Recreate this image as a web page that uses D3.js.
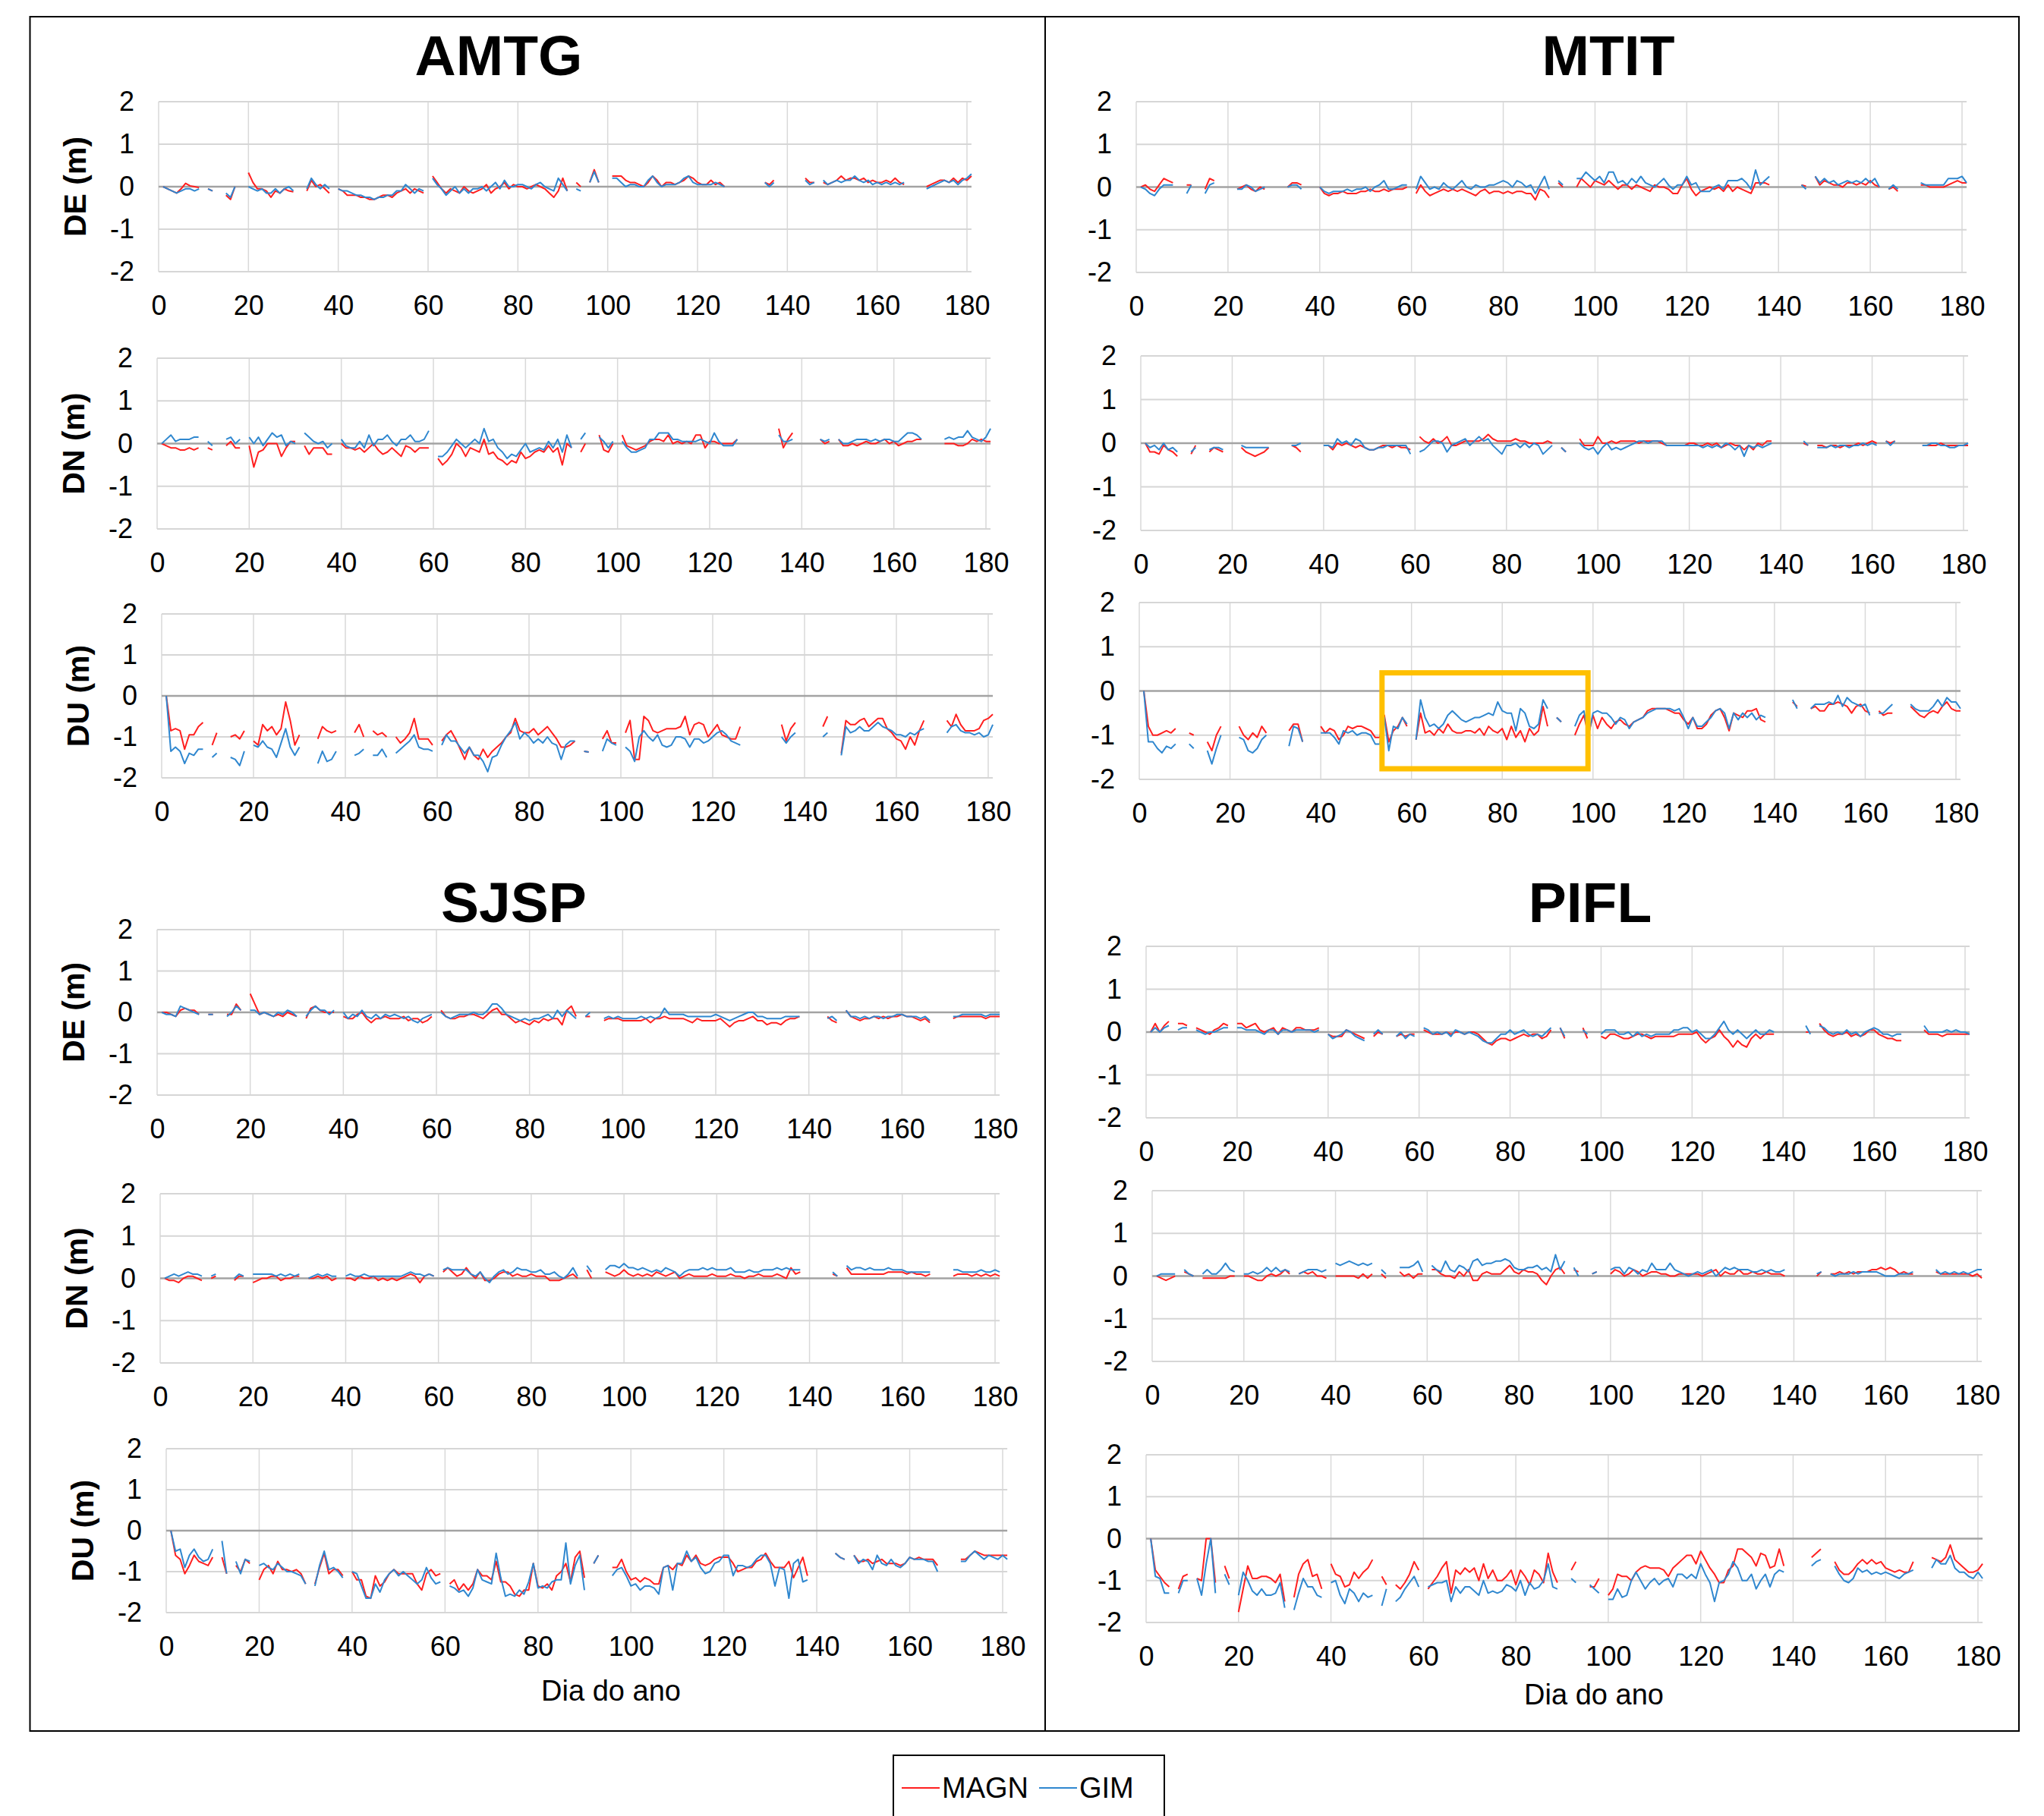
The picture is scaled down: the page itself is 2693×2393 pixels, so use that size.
<!DOCTYPE html>
<html><head><meta charset="utf-8">
<script src="https://cdn.jsdelivr.net/npm/d3@7"></script>
<style>body{margin:0;background:#fff}</style>
</head><body>
<script>
const _ = null;
const stations = ["AMTG", "MTIT", "SJSP", "PIFL"];
const components = ["DE (m)", "DN (m)", "DU (m)"];
const seriesNames = ["MAGN", "GIM"];
const xTicks = [0, 20, 40, 60, 80, 100, 120, 140, 160, 180];
const yTicks = [2, 1, 0, -1, -2];
const xTitle = "Dia do ano";

// values for days 1..181 (m)
const AMTG_DE_MAGN = [
0,-.05,-.1,-.15,-.05,.08,.02,0,-.02,_,
-.05,-.1,_,_,-.2,-.3,0,_,_,.33,
.1,-.05,-.05,-.1,-.25,-.1,-.15,-.05,-.1,-.12,
_,_,-.1,.15,0,.05,-.05,-.15,_,-.05,
-.1,-.2,-.2,-.2,-.25,-.25,-.3,-.3,-.25,-.2,
-.2,-.25,-.15,-.1,-.05,-.15,-.05,-.1,-.15,_,
.25,.1,-.05,-.15,-.05,-.1,-.15,0,-.1,-.15,
-.1,-.05,.05,-.15,-.05,0,.1,-.05,.05,0,
0,-.05,0,.05,0,-.05,-.15,-.25,-.1,.2,
-.1,_,.1,0,_,.1,.4,.1,_,_,
.25,.25,.25,.15,.1,.1,.05,0,.1,.25,
.15,0,.1,.1,.05,.1,.15,.25,.2,.1,
.05,.05,.15,.05,.1,0,_,_,_,_,
_,_,_,_,.1,.05,.15,_,_,_,
_,_,_,.2,.1,.1,_,.1,.05,.1,
.15,.25,.15,.2,.2,.15,.2,.1,.15,.1,
.1,.15,.1,.2,.1,.05,_,_,_,_,
0,.05,.1,.15,.15,.1,.2,.1,.2,.15,
.25];
const AMTG_DE_GIM = [
0,-.05,-.1,-.15,-.1,-.05,-.05,-.1,-.05,_,
-.05,-.1,_,_,-.15,-.25,0,_,_,0,
-.05,-.1,-.05,-.15,-.15,-.05,-.15,-.05,0,-.1,
_,_,-.05,.2,.05,-.05,.05,-.05,_,-.05,
-.1,-.1,-.15,-.2,-.2,-.25,-.25,-.3,-.25,-.25,
-.2,-.2,-.1,-.1,.05,-.05,-.15,-.05,-.1,_,
.2,.05,-.05,-.2,-.1,0,-.15,-.05,-.15,-.05,
-.05,0,-.1,0,.1,-.05,.15,0,0,.05,
.05,0,-.05,.05,.1,0,-.05,-.1,.2,.05,
-.1,_,-.05,-.1,_,.1,.35,.1,_,_,
.2,.2,.1,0,.05,.05,0,0,.15,.25,
.1,0,.05,.05,.05,.1,.2,.25,.1,.05,
.05,.05,.05,.1,.05,0,_,_,_,_,
_,_,_,_,.1,0,.1,_,_,_,
_,_,_,.15,.05,.1,_,.15,.05,.1,
.15,.1,.15,.15,.25,.15,.1,.15,.05,.1,
.05,.1,.05,.1,.05,.1,_,_,_,_,
-.05,0,.05,.1,.15,.1,.15,.05,.15,.2,
.3];
const AMTG_DN_MAGN = [
0,-.05,-.1,-.1,-.15,-.15,-.1,-.15,-.1,_,
-.1,-.15,_,_,-.05,.05,-.1,-.1,_,-.05,
-.55,-.2,-.15,0,0,0,-.3,-.1,.05,.05,
_,-.05,-.25,-.1,-.1,-.1,-.25,-.25,_,0,
-.1,-.1,-.15,-.1,-.2,-.1,0,-.15,-.25,-.2,
-.1,-.2,-.3,-.05,-.1,-.2,-.1,-.1,-.1,_,
-.35,-.5,-.4,-.25,0,-.1,-.3,-.1,-.15,-.2,
.1,-.25,-.2,-.35,-.4,-.5,-.4,-.45,-.2,-.35,
-.3,-.2,-.15,-.2,-.05,-.2,-.1,-.5,0,-.1,
_,-.2,0,_,_,.2,-.15,-.2,0,_,
.2,-.05,-.1,-.15,-.1,-.05,.05,.1,.1,.05,
.2,0,.05,0,.05,0,.2,.2,-.1,.05,
.05,0,0,0,0,.1,_,_,_,_,
_,_,_,_,.35,-.1,.1,.25,_,_,
_,_,_,.1,0,.05,_,.1,-.05,-.05,
0,-.05,0,.05,0,0,.05,.1,0,.05,
-.05,0,.05,.05,.1,.1,_,_,_,_,
0,0,0,-.05,-.05,0,.1,.05,.1,.05,
.05];
const AMTG_DN_GIM = [
0,.1,.2,.05,.1,.1,.1,.15,.15,_,
.05,-.05,_,_,.1,.15,0,.1,_,.15,
0,.15,-.05,.1,.25,.15,.2,-.05,.05,0,
_,.25,.15,.05,0,.05,-.1,0,_,.1,
-.05,-.1,-.1,.05,-.1,.2,-.05,.1,.1,.2,
.05,-.05,.1,.1,.2,.05,.05,.1,.3,_,
-.3,-.3,-.2,-.05,.1,0,-.1,0,.1,0,
.35,.05,.1,-.1,-.2,-.35,-.25,-.3,-.15,0,
-.2,-.15,-.1,-.15,.05,-.1,.1,-.2,.2,-.1,
_,.1,.25,_,_,.15,.05,-.1,.05,_,
.05,-.1,-.2,-.2,-.15,-.1,.1,.1,.25,.25,
.25,.1,.1,.05,.05,.05,.05,.1,.05,0,
.25,.05,-.05,-.05,-.05,.1,_,_,_,_,
_,_,_,_,.2,.05,.05,.1,_,_,
_,_,_,.1,.05,.1,_,.1,0,0,
.05,.1,.1,.1,.05,.1,.05,.1,.1,.05,
.05,.15,.25,.25,.2,.1,_,_,_,_,
.1,.15,.1,.15,.15,.3,.15,.1,.05,.15,
.35];
const AMTG_DU_MAGN = [
0,-.85,-.8,-.85,-1.3,-.95,-.95,-.75,-.65,_,
-1.2,-.9,_,_,-1,-.95,-1.05,-.85,_,-1.1,
-1.2,-.7,-.85,-.75,-.95,-.8,-.15,-.6,-1.2,-.95,
_,_,_,-1.05,-.75,-.85,-.9,-.85,_,_,
_,-.9,-.7,-1,_,-.85,-.95,-.9,-1,_,
-1,-1.15,-1.05,-.9,-.55,-1.05,-1.05,-1.05,-1.2,_,
-1.1,-.95,-.85,-1.05,-1.3,-1.55,-1.25,-1.45,-1.55,-1.3,
-1.5,-1.35,-1.25,-1.15,-1,-.9,-.55,-.85,-.9,-.9,
-.8,-.95,-.85,-.75,-.9,-1.05,-1.25,-1.25,-1.2,-1.1,
_,-1.35,-1.37,_,_,-1.05,-.85,-1.15,-1.15,_,
-.9,-.6,-1.55,-1.55,-.5,-.6,-.85,-.9,-.85,-.8,
-.8,-.8,-.75,-.5,-.95,-.7,-.65,-.7,-1,-.85,
-.7,-.95,-1,-1.05,-1.05,-.75,_,_,_,_,
_,_,_,_,-.7,-1.1,-.8,-.65,_,_,
_,_,_,-.75,-.5,_,_,-1.4,-.6,-.7,
-.7,-.6,-.55,-.75,-.65,-.55,-.55,-.8,-.9,-1.05,
-1.1,-1.3,-1,-1.2,-.85,-.6,_,_,_,_,
-.6,-.75,-.45,-.7,-.85,-.85,-.85,-.8,-.6,-.55,
-.45];
const AMTG_DU_GIM = [
0,-1.35,-1.25,-1.35,-1.65,-1.4,-1.45,-1.3,-1.3,_,
-1.5,-1.4,_,_,-1.5,-1.55,-1.7,-1.35,_,-1.2,
-1.25,-1.1,-1.25,-1.3,-1.5,-1.15,-.8,-1.25,-1.45,-1.25,
_,_,_,-1.65,-1.35,-1.6,-1.55,-1.35,_,_,
_,-1.45,-1.4,-1.3,_,-1.45,-1.45,-1.3,-1.5,_,
-1.4,-1.3,-1.2,-1.1,-.95,-1.25,-1.3,-1.3,-1.35,_,
-1.2,-.95,-1.1,-1.1,-1.25,-1.4,-1.25,-1.45,-1.45,-1.6,
-1.85,-1.5,-1.45,-1.2,-1,-.85,-.65,-1.05,-.9,-1,
-1.15,-1.05,-1.15,-1,-1.15,-1.2,-1.55,-1.2,-1.1,-1.1,
_,-1.35,-1.37,_,_,-1.35,-1.05,-1.15,-1.2,_,
-1.25,-1.35,-1.6,-1,-.85,-1,-1.1,-.95,-1.2,-1.25,
-1.2,-1,-1,-1.05,-1.25,-1.05,-1.05,-1.15,-1.1,-1,
-.9,-.85,-.95,-1.1,-1.15,-1.2,_,_,_,_,
_,_,_,_,-1,-1.15,-1,-.9,_,_,
_,_,_,-1,-.9,_,_,-1.45,-.75,-.9,
-.85,-.75,-.85,-.85,-.75,-.65,-.75,-.8,-.85,-.95,
-.95,-1,-.9,-.95,-.85,-.8,_,_,_,_,
-.9,-.75,-.7,-.85,-.9,-.9,-.95,-.9,-1,-.95,
-.7];

const MTIT_DE_MAGN = [
0,.05,-.05,-.1,.05,.2,.15,.1,_,_,
.05,.05,_,_,-.05,.2,.15,_,_,_,
_,-.05,0,.05,-.05,-.1,0,-.05,_,_,
_,_,0,.1,.1,.05,_,_,_,0,
-.15,-.2,-.15,-.15,-.1,-.15,-.15,-.15,-.1,-.1,
-.05,-.1,-.1,-.05,-.1,-.05,-.05,-.05,0,_,
-.15,.05,-.1,-.2,-.15,-.1,-.05,-.1,-.05,-.1,
-.05,-.1,-.15,-.2,-.1,-.05,-.15,-.1,-.1,-.15,
-.1,-.15,-.1,-.1,-.15,-.15,-.3,-.05,-.1,-.25,
_,.1,0,_,_,0,.2,.1,0,.15,
.1,.05,.15,.05,-.05,.05,.05,-.05,.05,0,
-.05,-.1,.05,0,0,-.05,-.15,-.15,.05,.2,
-.05,-.2,-.1,-.05,0,-.05,0,-.1,.05,-.1,
0,-.05,-.1,-.15,.1,.1,.1,.05,_,_,
_,_,_,_,.05,.02,_,.25,.05,.15,
.1,.05,.05,0,.1,.1,.05,.1,.05,.15,
.05,0,_,-.05,0,-.1,_,_,_,_,
.05,.05,0,0,0,0,.05,.1,.15,.1,
.1];
const MTIT_DE_GIM = [
0,-.05,-.15,-.2,-.05,.05,.05,.05,_,_,
-.15,.05,_,_,-.15,.05,.1,_,_,_,
_,-.05,-.05,.05,0,-.1,-.05,0,_,_,
_,_,0,.05,.05,-.05,_,_,_,0,
-.1,-.15,-.1,-.1,-.1,-.05,-.1,-.05,-.05,0,
-.1,0,.05,.15,-.05,-.05,0,.05,.05,_,
-.05,.25,.1,-.05,0,-.05,.1,0,-.05,.05,
.15,0,-.05,.05,0,0,.05,.05,.1,.15,
.1,0,.15,.1,0,.05,-.15,.05,.25,-.05,
_,.15,.05,_,_,.2,.2,.35,.25,.15,
.25,.1,.35,.35,.1,.15,.05,.2,.1,.25,
.1,.05,0,.1,.2,.05,-.05,.05,.05,.25,
.05,.1,-.1,-.1,-.1,0,.05,-.05,.15,.15,
.15,.2,.1,-.05,.4,.05,.15,.25,_,_,
_,_,_,_,.05,-.05,_,.25,.1,.2,
.1,.15,.05,.1,.15,.1,.15,.1,.2,.1,
.2,0,_,-.05,.05,-.05,_,_,_,_,
.1,.05,.05,.05,.05,.05,.2,.2,.2,.25,
.1];
const MTIT_DN_MAGN = [
0,-.2,-.2,-.25,-.05,-.15,-.2,-.3,_,_,
-.25,-.05,_,_,-.2,-.1,-.15,-.2,_,_,
_,-.1,-.2,-.25,-.3,-.25,-.2,-.1,_,_,
_,_,-.05,-.1,-.2,_,_,_,_,-.05,
-.05,-.15,0,-.05,0,-.05,-.1,-.05,-.1,-.15,
-.15,-.1,-.05,-.05,-.1,-.05,-.1,-.1,-.15,_,
.15,.05,0,.1,0,.05,.15,-.05,-.05,0,
.05,.05,.05,.05,.1,.2,.1,.05,.05,.05,
.05,.1,.05,.05,0,0,0,0,.05,0,
_,-.1,-.2,_,_,.1,-.05,-.05,-.05,.15,
0,0,.05,0,.05,.05,.05,.05,0,.05,
.05,.05,.05,0,-.05,-.05,-.05,-.05,-.05,0,
0,-.05,-.05,0,-.05,0,-.1,-.05,0,-.05,
-.05,-.15,-.05,-.15,0,-.05,.05,.05,_,_,
_,_,_,_,0,-.05,_,-.05,-.05,-.1,
-.05,-.05,-.1,-.05,-.05,-.05,0,-.05,0,.05,
0,_,.05,0,.05,_,_,_,_,_,
-.05,-.05,-.05,-.05,0,-.05,-.05,-.05,-.05,-.05,
-.05];
const MTIT_DN_GIM = [
0,-.1,-.05,-.15,0,-.15,-.1,-.2,_,_,
-.2,-.1,_,_,-.15,-.1,-.1,-.15,_,_,
_,-.05,-.1,-.1,-.1,-.1,-.1,-.1,_,_,
_,_,-.05,-.05,0,_,_,_,_,-.05,
-.05,-.1,.1,0,.05,-.05,.1,.05,-.1,-.15,
-.15,-.1,-.1,-.05,-.05,-.05,-.05,-.05,-.25,_,
-.2,-.15,-.05,.05,.05,0,-.2,-.05,0,.05,
.1,-.05,.05,.15,.05,.1,-.05,-.15,-.25,-.05,
-.05,0,-.1,0,-.1,0,-.05,-.25,-.15,-.05,
_,-.1,-.2,_,_,0,-.1,-.15,-.1,-.25,
-.1,0,-.15,-.1,-.15,-.1,-.05,0,.05,.05,
0,.05,.05,.05,-.05,-.05,-.05,-.05,-.05,-.05,
-.05,-.05,-.1,-.05,-.1,-.05,-.1,0,-.05,-.15,
-.05,-.3,-.05,-.1,-.05,-.1,-.05,0,_,_,
_,_,_,_,.05,-.05,_,-.1,-.1,-.1,
-.05,-.1,-.05,-.05,-.1,-.05,-.05,0,-.05,0,
-.05,_,.05,-.05,.05,_,_,_,_,_,
-.05,-.05,0,0,-.05,-.05,-.1,-.1,-.05,-.05,
0];
const MTIT_DU_MAGN = [
0,-.8,-1,-1,-.95,-.9,-.95,-.85,_,_,
-.95,-1,_,_,-1.15,-1.35,-1,-.8,_,_,
_,-.8,-1,-1.1,-.95,-1.05,-.8,-.95,_,_,
_,_,-.9,-.75,-.75,-1.15,_,_,_,-.8,
-.95,-.85,-.9,-1.1,-1,-.8,-.85,-.8,-.8,-.85,
-.9,-1.05,-1.05,-.55,-1.15,-.9,-.8,-.6,-.8,_,
-1.1,-.5,-.95,-.9,-1,-.85,-.95,-.75,-.9,-.95,
-.95,-.9,-.9,-.95,-.85,-1,-.8,-.9,-.95,-.85,
-1.1,-.8,-1.05,-.9,-1.15,-.85,-1,-.9,-.35,-.8,
_,-.6,-.7,_,_,-1,-.75,-.55,-1,-.55,
-.85,-.6,-.75,-.85,-.7,-.65,-.75,-.8,-.7,-.65,
-.6,-.45,-.4,-.4,-.4,-.4,-.45,-.5,-.5,-.65,
-.75,-.6,-.85,-.85,-.75,-.55,-.45,-.4,-.6,-.9,
-.5,-.55,-.6,-.45,-.45,-.4,-.65,-.7,_,_,
_,_,_,-.25,-.35,_,_,-.4,-.35,-.45,
-.45,-.3,-.3,-.25,-.3,-.35,-.5,-.35,-.3,-.45,
-.5,_,-.45,-.55,-.5,-.5,_,_,_,-.35,
-.45,-.55,-.6,-.5,-.45,-.5,-.35,-.25,-.4,-.45,
-.45];
const MTIT_DU_GIM = [
0,-1.15,-1.15,-1.3,-1.4,-1.25,-1.3,-1.2,_,_,
-1.2,-1.3,_,_,-1.35,-1.65,-1.3,-1,_,_,
_,-1.05,-1.1,-1.35,-1.4,-1.3,-1.1,-1,_,_,
_,_,-1.25,-.8,-.85,-1.15,_,_,_,-.95,
-.95,-.95,-1.05,-1.2,-.9,-.95,-.9,-1,-.95,-.95,
-1,-1.2,-1.2,-.6,-1.35,-.8,-.85,-.6,-.75,_,
-1.1,-.2,-.6,-.8,-.75,-.85,-.75,-.55,-.45,-.55,
-.65,-.7,-.65,-.6,-.6,-.55,-.5,-.55,-.25,-.45,
-.5,-.5,-.9,-.4,-.5,-.8,-.85,-.75,-.2,-.4,
_,-.6,-.7,_,_,-.8,-.55,-.45,-1,-.5,
-.45,-.5,-.5,-.6,-.75,-.6,-.65,-.85,-.7,-.65,
-.6,-.5,-.45,-.4,-.4,-.4,-.4,-.45,-.4,-.6,
-.85,-.6,-.8,-.8,-.7,-.6,-.45,-.4,-.5,-.85,
-.5,-.65,-.5,-.6,-.5,-.65,-.55,-.6,_,_,
_,_,_,-.2,-.4,_,_,-.4,-.3,-.3,
-.3,-.25,-.3,-.1,-.35,-.15,-.25,-.3,-.35,-.3,
-.55,_,-.5,-.5,-.4,-.3,_,_,_,-.3,
-.4,-.45,-.45,-.45,-.35,-.2,-.35,-.15,-.25,-.25,
-.4];

const SJSP_DE_MAGN = [
0,0,-.05,-.1,.05,.1,.05,.05,-.05,_,
-.05,-.05,_,_,-.05,-.05,.2,.05,_,.45,
.2,-.05,0,-.05,-.1,-.05,-.1,0,-.05,-.1,
_,-.15,.1,.15,.05,0,0,0,_,-.1,
-.15,-.15,-.05,0,-.15,-.25,-.15,-.15,-.1,-.15,
-.15,-.15,-.1,-.2,-.15,-.15,-.25,-.2,-.1,_,
.05,-.1,-.15,-.15,-.1,-.1,-.05,-.05,-.1,-.15,
-.05,.05,.1,-.05,-.05,-.15,-.25,-.2,-.25,-.3,
-.2,-.25,-.15,-.2,-.15,-.15,-.3,.05,.15,-.1,
_,-.1,-.1,_,_,-.2,-.15,-.15,-.15,-.2,
-.2,-.2,-.2,-.2,-.15,-.25,-.15,-.15,-.1,-.15,
-.15,-.15,-.15,-.2,-.25,-.15,-.2,-.2,-.2,-.2,
-.15,-.25,-.35,-.25,-.2,-.2,-.15,-.1,-.2,-.2,
-.3,-.25,-.25,-.3,-.2,-.15,-.15,-.1,_,_,
_,_,_,-.1,-.2,-.25,_,.05,-.1,-.15,
-.2,-.15,-.15,-.1,-.15,-.1,-.15,-.1,-.1,-.05,
-.1,-.1,-.15,-.2,-.15,-.25,_,_,_,_,
-.15,-.1,-.1,-.1,-.1,-.1,-.1,-.15,-.1,-.1,
-.1];
const SJSP_DE_GIM = [
0,-.05,-.05,-.1,.15,.1,.05,0,-.05,_,
-.05,-.05,_,_,-.1,0,.15,.05,_,.05,
.05,-.05,0,-.05,-.1,0,-.05,.05,0,-.1,
_,-.1,.05,.15,.05,.05,-.05,.05,_,0,
-.15,-.05,-.1,.05,-.1,-.15,-.05,-.15,-.05,-.1,
-.05,-.1,-.15,-.1,-.2,-.25,-.15,-.1,-.05,_,
0,-.1,-.15,-.1,-.05,-.05,-.05,0,-.05,-.05,
.05,.2,.2,.1,-.05,-.1,-.15,-.2,-.15,-.2,
-.15,-.15,-.1,-.05,-.15,.05,-.1,.05,-.05,-.15,
_,-.1,0,_,_,-.15,-.1,-.15,-.1,-.15,
-.15,-.15,-.15,-.1,-.15,-.1,-.15,-.1,.1,-.05,
-.05,-.05,-.05,-.1,-.1,-.1,-.1,-.1,-.1,-.05,
-.1,-.15,-.2,-.15,-.1,-.05,0,0,-.1,-.1,
-.15,-.15,-.15,-.15,-.1,-.1,-.1,-.1,_,_,
_,_,_,-.15,-.1,-.2,_,.05,-.1,-.1,
-.15,-.1,-.15,-.1,-.1,-.15,-.1,-.1,-.05,-.05,
-.1,-.1,-.1,-.15,-.1,-.2,_,_,_,_,
-.1,-.1,-.05,-.05,-.05,-.05,-.05,-.1,-.05,-.05,
-.05];
const SJSP_DN_MAGN = [
0,-.05,-.05,-.1,0,.05,.05,0,-.05,_,
0,.05,_,_,_,-.05,.05,.05,_,-.1,
-.05,0,0,.05,.05,-.05,0,0,.05,.05,
_,0,0,.05,0,.05,-.05,0,_,0,
0,-.05,.05,0,0,.05,-.05,0,-.05,0,
-.05,0,.05,.1,.05,-.1,.05,.1,.05,_,
.15,.25,.15,.05,.1,.25,.1,0,.15,-.05,
-.05,0,.1,.15,.15,.05,.1,.05,.05,.1,
.05,.05,.05,-.05,-.05,-.05,0,.05,.1,0,
_,.2,0,_,_,.15,.1,.05,.1,.2,
.1,.05,.1,.05,.1,.05,.15,.1,.05,.1,
.15,0,.05,.1,.05,.05,.05,.05,.1,.05,
.05,.05,.1,.05,.05,0,.05,.05,.1,.05,
.05,.05,.1,.05,0,.25,.1,.15,_,_,
_,_,_,_,.1,.05,_,.25,.1,.1,
.1,.1,.1,.1,.1,.1,.15,.15,.15,.15,
.1,.15,.1,.1,.05,.1,_,_,_,_,
.05,.1,.1,.1,.05,.1,.05,.1,.05,.1,
.05];
const SJSP_DN_GIM = [
0,.05,.1,.05,.1,.15,.1,.1,.05,_,
.05,.1,_,_,_,0,.1,.05,_,.1,
.1,.1,.1,.1,.05,.1,.05,.1,.05,.1,
_,0,.05,.1,.05,.1,.05,.05,_,.05,
.1,.05,.05,.1,.05,.05,.05,.05,.05,.05,
.05,.05,.1,.15,.1,.1,.05,.1,.05,_,
.2,.25,.2,.2,.2,.2,.1,.05,.15,0,
-.1,.05,.15,.2,.1,.15,.25,.2,.2,.15,
.15,.2,.1,.1,.15,.05,0,.1,.25,.05,
_,.3,.15,_,_,.2,.3,.3,.25,.35,
.25,.25,.2,.25,.2,.15,.2,.15,.25,.2,
.15,.05,.15,.2,.2,.2,.25,.2,.25,.2,
.2,.2,.25,.15,.15,.15,.2,.15,.15,.2,
.2,.2,.25,.2,.25,.2,.2,.2,_,_,
_,_,_,_,.15,.05,_,.3,.2,.25,
.25,.2,.25,.2,.2,.2,.25,.2,.2,.2,
.15,.15,.15,.15,.15,.15,_,_,_,_,
.2,.2,.15,.15,.15,.15,.2,.15,.15,.2,
.15];
const SJSP_DU_MAGN = [
0,-.6,-.7,-1.05,-.85,-.6,-.75,-.8,-.85,-.65,
_,-.65,-1.05,_,-.85,-1,-.7,-.8,_,-1.2,
-.95,-.85,-1.05,-.75,-.95,-.95,-1,-.95,-1.05,-1.3,
_,-1.3,-.9,-.55,-1.05,-.95,-.95,-1.1,_,-1,
-1.2,-1.2,-1.6,-1.65,-1.1,-1.35,-1.25,-1.05,-.95,-1.05,
-1.05,-1.05,-1.05,-1.3,-1.45,-1.05,-.95,-1.1,-1.05,_,
-1.3,-1.2,-1.45,-1.3,-1.45,-1.3,-.95,-1.1,-1.1,-1.2,
-.75,-1.25,-1.25,-1.35,-1.55,-1.6,-1.45,-1.45,-.8,-1.35,
-1.4,-1.3,-1.45,-1.1,-1,-.8,-1.25,-.65,-.5,-1.15,
_,-.8,-.6,_,_,-.9,-.9,-.7,-1,-1.2,
-1.15,-1.25,-1.15,-1.2,-1.3,-1.3,-.9,-.85,-.95,-.8,
-.85,-.6,-.75,-.6,-.8,-.85,-.8,-.7,-.65,-.65,
-.65,-.8,-1,-.95,-.9,-.9,-.75,-.7,-.55,-.75,
-.9,-.9,-.9,-.75,-1.15,-.9,-.65,-1.1,_,_,
_,_,_,-.55,-.65,-.7,_,-.6,-.75,-.75,
-.7,-.8,-.75,-.7,-.8,-.8,-.8,-.85,-.8,-.65,
-.7,-.65,-.7,-.7,-.7,-.85,_,_,_,_,
-.7,-.7,-.6,-.5,-.55,-.6,-.6,-.6,-.6,-.6,
-.6];
const SJSP_DU_GIM = [
0,-.5,-.45,-.9,-.6,-.45,-.65,-.75,-.7,-.45,
_,-.25,-1.05,_,-.75,-1.05,-.7,-.75,_,-.85,
-.8,-.9,-.95,-.8,-.9,-1,-1,-1.05,-1.1,-1.3,
_,-1.35,-.85,-.5,-.95,-.9,-1,-1.15,_,-1,
-1.05,-1.35,-1.65,-1.65,-1.3,-1.5,-1.2,-1.05,-.95,-1.1,
-1,-1.1,-1.2,-1.3,-1.2,-.9,-1.15,-1.3,-1.25,_,
-1.35,-1.4,-1.5,-1.45,-1.6,-1.4,-.95,-1.2,-1.25,-1.3,
-.55,-1.15,-1.6,-1.55,-1.6,-1.45,-1.55,-1.25,-.8,-1.4,
-1.35,-1.4,-1.25,-1.2,-1.2,-.3,-1.3,-.85,-.6,-1.45,
_,-.8,-.6,_,_,-1.1,-.95,-.9,-1.1,-1.35,
-1.3,-1.45,-1.35,-1.35,-1.4,-1.55,-.9,-.85,-1.45,-.8,
-.8,-.5,-.75,-.65,-.9,-1.05,-1,-.8,-.75,-.6,
-.6,-1.1,-.85,-.85,-.9,-.85,-.7,-.6,-.6,-.8,
-1.35,-.9,-.95,-1.65,-.8,-.7,-1.25,-1.2,_,_,
_,_,_,-.55,-.65,-.7,_,-.6,-.8,-.7,
-.75,-.95,-.6,-.8,-.85,-.7,-.85,-.9,-.8,-.65,
-.7,-.7,-.7,-.75,-.75,-1,_,_,_,_,
-.75,-.75,-.6,-.5,-.6,-.7,-.6,-.65,-.7,-.6,
-.7];

const PIFL_DE_MAGN = [
0,.2,0,.15,.25,_,.2,.2,.15,_,
.1,.05,0,-.05,.05,.1,.2,.15,_,.2,
.2,.1,.15,.2,.05,0,.05,.1,-.05,.1,
.05,0,.1,.1,.05,.05,.05,.1,_,-.05,
-.1,-.1,-.1,.05,0,-.05,-.1,-.15,_,-.1,
0,-.05,_,_,-.1,-.05,-.1,-.05,-.05,_,
.05,0,-.05,-.05,-.05,0,-.05,0,0,-.05,
0,0,-.05,-.15,-.25,-.3,-.2,-.15,-.15,-.2,
-.15,-.1,-.05,-.1,-.05,-.05,-.15,-.1,.05,_,
.1,-.15,_,_,_,.1,-.15,_,_,-.1,
-.15,-.05,-.05,-.1,-.15,-.15,-.1,-.05,-.05,-.1,
-.15,-.1,-.1,-.1,-.1,-.1,-.05,-.05,-.05,-.05,
0,-.15,-.25,-.15,-.1,.05,-.1,-.2,-.35,-.2,
-.3,-.35,-.15,-.05,-.15,-.05,-.05,-.05,_,_,
_,_,_,_,0,0,_,.2,.05,-.05,
-.1,-.05,-.05,0,-.1,-.05,-.1,-.05,.05,.05,
-.05,-.1,-.15,-.15,-.2,-.2,_,_,_,_,
.05,-.05,-.05,-.05,-.1,-.05,-.05,-.05,-.05,-.05,
-.05];
const PIFL_DE_GIM = [
0,.1,0,.1,.15,_,.05,.1,.1,_,
.05,0,-.05,0,0,.05,.1,.1,_,.1,
.1,.05,.05,.05,0,-.05,.05,.05,-.05,.05,
.05,0,.05,.05,.05,.05,0,.05,_,-.05,
-.15,-.1,-.05,.05,0,-.1,-.15,-.2,_,-.05,
.05,-.05,_,_,-.1,0,-.15,-.05,-.1,_,
.1,.05,-.05,0,-.05,0,-.1,.05,0,-.05,
0,-.05,-.1,-.2,-.25,-.25,-.15,-.05,-.05,.05,
-.05,0,.05,-.05,-.1,-.05,-.1,0,.1,_,
.1,-.1,_,_,_,.05,-.05,_,_,-.05,
.05,.05,.05,-.05,-.05,0,-.1,0,-.1,-.05,
-.1,-.05,-.05,-.05,-.05,.05,.05,.1,.1,0,
.05,-.05,-.15,-.15,-.05,.1,.25,.05,-.05,.05,
-.05,-.15,-.05,.05,-.05,-.05,.05,0,_,_,
_,_,_,_,.15,-.05,_,.15,.1,0,
-.05,0,-.05,.05,-.05,0,-.1,0,.05,.1,
.05,-.05,-.05,-.1,-.05,-.05,_,_,_,_,
.15,0,0,0,0,.05,0,.05,0,0,
-.05];
const PIFL_DN_MAGN = [
0,-.05,-.1,-.05,0,_,.1,.05,0,_,
-.05,-.05,-.05,-.05,-.05,-.05,0,0,_,0,
0,-.05,-.1,-.1,0,.05,0,.05,.15,.05,
_,.05,.1,.05,.1,0,0,-.05,_,0,
0,0,0,0,-.05,.05,-.05,.05,_,.05,
-.05,_,_,.1,0,.05,-.05,.05,.05,_,
.15,.15,.05,0,0,-.05,.1,0,.15,-.1,
-.1,.05,.1,.05,.05,.05,.15,.25,.1,.05,
.15,.1,.1,.05,-.1,-.2,0,.15,.2,.05,
_,.15,.1,_,_,.05,.1,_,_,.05,
.15,.1,0,.05,.15,.1,0,.05,.1,.1,
.05,.05,0,0,.05,.05,.05,.05,.05,0,
.05,.1,.15,0,.1,.05,.05,.15,.05,.05,
.1,.05,.05,.1,.05,.05,.05,0,_,_,
_,_,_,_,0,.1,_,.05,.05,.1,
.05,.1,.05,.1,.1,.1,.15,.15,.2,.15,
.2,.15,.05,.1,.05,.05,_,_,_,_,
.1,.05,.05,.05,.05,.05,.05,.05,0,.05,
-.05];
const PIFL_DN_GIM = [
0,.05,.05,.05,.05,_,.15,.05,0,_,
.05,.15,.05,.05,.15,.3,.15,.1,_,.05,
.05,.1,.05,.1,.2,.1,.2,.1,.15,.1,
_,.05,.1,.15,.15,.15,.1,.15,_,.3,
.25,.3,.35,.3,.25,.3,.25,.3,_,.15,
.05,_,_,.2,.2,.2,.25,.35,.1,_,
.25,.15,.1,.35,.15,.1,.25,.2,.1,.35,
.4,.25,.3,.3,.35,.35,.4,.35,.2,.15,
.15,.2,.2,.25,.15,.2,.1,.5,.15,.35,
_,.2,0,_,_,.05,.1,_,_,.15,
.2,.2,.05,.2,.15,.05,.15,.1,.3,.15,
.15,.15,.3,.15,.1,.05,0,.05,.1,.05,
.1,.15,0,.1,.2,.15,.2,.15,.15,.15,
.1,.1,.15,.1,.15,.1,.1,.15,_,_,
_,_,_,_,.05,.1,_,.05,0,.05,
.05,.05,.1,.05,.1,.1,.1,.1,.05,0,
0,0,.05,.05,.05,.1,_,_,_,_,
.15,.05,.1,.05,.1,.05,.1,.05,.1,.15,
.15];
const PIFL_DU_MAGN = [
0,-.75,-.9,-1.05,-1.15,_,-1.2,-.9,-.85,_,
-.95,-1,0,0,-1.05,_,-.65,-.95,_,-1.75,
-1.2,-.65,-.95,-.95,-.9,-.9,-.95,-1.05,-.85,-1.5,
_,-1.4,-.85,-.6,-.5,-.9,-.85,-1.2,_,-.6,
-.85,-.9,-1.15,-1.1,-.8,-.95,-.8,-.7,-.5,_,
-.9,-1.1,_,-1.1,-1.2,-1.05,-.85,-.55,-.75,_,
-1.2,-1.05,-.9,-.7,-.55,-1.3,-.75,-.85,-.7,-.8,
-.7,-1,-.6,-.95,-.75,-1,-1,-.9,-.75,-1.1,
-.75,-.9,-1.1,-.75,-.85,-1.05,-.35,-.8,-1.05,_,
_,-.75,-.55,_,_,-1.15,-1.15,-.95,_,-1.35,
-1.2,-.85,-.9,-.9,-1,-.8,-.7,-.65,-.7,-.7,
-.7,-.75,-.9,-.7,-.6,-.5,-.4,-.4,-.6,-.3,
-.5,-.7,-.85,-1.05,-1.05,-.75,-.65,-.25,-.25,-.35,
-.45,-.65,-.35,-.4,-.7,-.65,-.25,-.65,_,_,
_,_,_,-.45,-.35,-.25,_,_,-.55,-.75,
-.85,-.85,-.75,-.6,-.5,-.6,-.5,-.6,-.55,-.7,
-.75,-.8,-.75,-.8,-.8,-.55,_,_,_,-.45,
-.5,-.55,-.45,-.15,-.5,-.6,-.7,-.8,-.8,-.75,
-.6];
const PIFL_DU_GIM = [
0,-.9,-.95,-1.3,-1.3,_,-1.3,-1,-1,_,
-.95,-1.35,-.6,0,-1.3,_,-.85,-1.1,_,-1.35,
-.8,-1,-1.25,-1.35,-1.2,-1.35,-1.35,-1.3,-1.05,-1.65,
_,-1.7,-1.3,-.95,-1.15,-1.15,-1.35,-1.4,_,-1.05,
-1,-1.35,-1.55,-1.2,-1.3,-1.5,-1.3,-1.4,-1.35,_,
-1.6,-1.2,_,-1.5,-1.4,-1.2,-1.05,-.9,-1.15,_,
-1.15,-1.1,-1.05,-1.05,-1,-1.5,-1.15,-1.3,-1.15,-1.15,
-1.25,-1.35,-1,-1.3,-1.25,-1.3,-1.25,-1.1,-1.15,-1.25,
-1,-1.35,-1.05,-1.2,-1.15,-1,-.6,-1.15,-1.2,_,
_,-.95,-1.05,_,_,-1.1,-1.2,-1.3,_,-1.45,
-1.45,-1.2,-1.4,-1.35,-1,-.8,-1,-1.2,-1.05,-.95,
-1.1,-1,-.95,-1.15,-.85,-.85,-.95,-.85,-.95,-.6,
-.85,-1.05,-1.5,-1.05,-1,-.85,-.55,-.7,-1,-1,
-.85,-1.2,-1,-.85,-1.15,-.85,-.75,-.8,_,_,
_,_,_,-.65,-.55,-.5,_,_,-.65,-.85,
-1,-1.05,-.95,-.7,-.8,-.75,-.85,-.8,-.85,-.8,
-.85,-.9,-.95,-.85,-.8,-.75,_,_,_,-.7,
-.5,-.6,-.6,-.4,-.7,-.8,-.8,-.9,-.95,-.8,
-.95];

// highlighted window on MTIT DU (day range, value range)
const highlightDays = [53.5, 98.9];
const highlightVals = [0.41, -1.76];

// ---------- layout ----------
const W = 2693, H = 2393;
const FONT = "'Liberation Sans', Arial, Helvetica, sans-serif";
const RED = "#ff1f1f", BLUE = "#2f87cf";

const panels = [
  {st:0, c:0, m:AMTG_DE_MAGN, g:AMTG_DE_GIM, x0:209, x1:1274, yT:134, yB:358},
  {st:0, c:1, m:AMTG_DN_MAGN, g:AMTG_DN_GIM, x0:207, x1:1299, yT:472, yB:697},
  {st:0, c:2, m:AMTG_DU_MAGN, g:AMTG_DU_GIM, x0:213, x1:1302, yT:809, yB:1025},
  {st:1, c:0, m:MTIT_DE_MAGN, g:MTIT_DE_GIM, x0:1497, x1:2585, yT:134, yB:359},
  {st:1, c:1, m:MTIT_DN_MAGN, g:MTIT_DN_GIM, x0:1503, x1:2587, yT:469, yB:699},
  {st:1, c:2, m:MTIT_DU_MAGN, g:MTIT_DU_GIM, x0:1501, x1:2577, yT:794, yB:1027, hl:true},
  {st:2, c:0, m:SJSP_DE_MAGN, g:SJSP_DE_GIM, x0:207, x1:1311, yT:1225, yB:1443},
  {st:2, c:1, m:SJSP_DN_MAGN, g:SJSP_DN_GIM, x0:211, x1:1311, yT:1573, yB:1796},
  {st:2, c:2, m:SJSP_DU_MAGN, g:SJSP_DU_GIM, x0:219, x1:1321, yT:1909, yB:2125},
  {st:3, c:0, m:PIFL_DE_MAGN, g:PIFL_DE_GIM, x0:1510, x1:2589, yT:1247, yB:1473},
  {st:3, c:1, m:PIFL_DN_MAGN, g:PIFL_DN_GIM, x0:1518, x1:2605, yT:1569, yB:1794},
  {st:3, c:2, m:PIFL_DU_MAGN, g:PIFL_DU_GIM, x0:1510, x1:2606, yT:1917, yB:2138},
];

const svg = d3.select("body").append("svg")
  .attr("width", W).attr("height", H).attr("viewBox", `0 0 ${W} ${H}`)
  .style("display","block").style("background","#fff");

// outer frames
svg.append("rect").attr("x",39.5).attr("y",22).attr("width",1337.5).attr("height",2259)
  .attr("fill","none").attr("stroke","#000").attr("stroke-width",2);
svg.append("rect").attr("x",1377).attr("y",22).attr("width",1283).attr("height",2259)
  .attr("fill","none").attr("stroke","#000").attr("stroke-width",2);

// station titles
const titlePos = [[657,99],[2119,99],[677,1215],[2095,1215]];
stations.forEach((s,i) => {
  svg.append("text").attr("x",titlePos[i][0]).attr("y",titlePos[i][1])
    .attr("text-anchor","middle").attr("font-family",FONT).attr("font-weight","bold")
    .attr("font-size",75).attr("fill","#000").text(s);
});

panels.forEach(p => {
  const g = svg.append("g");
  const x = d3.scaleLinear().domain([0,180]).range([p.x0,p.x1]);
  const y = d3.scaleLinear().domain([-2,2]).range([p.yB,p.yT]);
  const xEnd = x(181);

  g.selectAll("line.vg").data(xTicks).join("line").attr("class","vg")
    .attr("x1",d=>x(d)).attr("x2",d=>x(d)).attr("y1",p.yT).attr("y2",p.yB)
    .attr("stroke","#d9d9d9").attr("stroke-width",1.5);
  g.selectAll("line.hg").data(yTicks).join("line").attr("class","hg")
    .attr("x1",x(0)).attr("x2",xEnd).attr("y1",d=>y(d)).attr("y2",d=>y(d))
    .attr("stroke",d=>d===0?"#a3a3a3":"#d6d6d6").attr("stroke-width",d=>d===0?2.5:2);

  const xa = g.append("g").attr("transform",`translate(0,${p.yB})`)
    .call(d3.axisBottom(x).tickValues(xTicks).tickSize(0).tickPadding(31).tickFormat(d=>String(d)));
  xa.select(".domain").remove();
  xa.attr("font-size",36).attr("font-family",FONT);
  xa.selectAll("text").attr("fill","#000");

  const ya = g.append("g").attr("transform",`translate(${p.x0},0)`)
    .call(d3.axisLeft(y).tickValues(yTicks).tickSize(0).tickPadding(32).tickFormat(d=>String(d)));
  ya.select(".domain").remove();
  ya.attr("font-size",36).attr("font-family",FONT);
  ya.selectAll("text").attr("fill","#000");

  if (p.st === 0 || p.st === 2) {
    g.append("text")
      .attr("transform",`translate(${p.x0-110},${(p.yT+p.yB)/2}) rotate(-90)`)
      .attr("text-anchor","middle").attr("dominant-baseline","central")
      .attr("font-family",FONT).attr("font-weight","bold").attr("font-size",41)
      .attr("fill","#000").text(components[p.c]);
  }

  const line = d3.line().defined(d=>d.v!=null).x(d=>x(d.day)).y(d=>y(d.v));
  [[p.m,RED],[p.g,BLUE]].forEach(([arr,col]) => {
    const pts = Array.from(arr,(v,i)=>({day:i+1, v:(v===undefined?null:v)}));
    g.append("path").datum(pts).attr("d",line).attr("fill","none")
      .attr("stroke",col).attr("stroke-width",2).attr("stroke-linejoin","round");
  });

  if (p.hl) {
    g.append("rect")
      .attr("x",x(highlightDays[0])).attr("y",y(highlightVals[0]))
      .attr("width",x(highlightDays[1])-x(highlightDays[0]))
      .attr("height",y(highlightVals[1])-y(highlightVals[0]))
      .attr("fill","none").attr("stroke","#ffc000").attr("stroke-width",7);
  }

  if (p.c === 2 && (p.st === 2 || p.st === 3)) {
    g.append("text").attr("x",p.st===2?805:2100).attr("y",p.st===2?2241:2246)
      .attr("text-anchor","middle").attr("font-family",FONT).attr("font-size",38)
      .attr("fill","#000").text(xTitle);
  }
});

// legend
const lg = svg.append("g");
lg.append("rect").attr("x",1177).attr("y",2313).attr("width",357).attr("height",110)
  .attr("fill","#fff").attr("stroke","#000").attr("stroke-width",2);
const legendItems = [[seriesNames[0],RED,1188],[seriesNames[1],BLUE,1369]];
legendItems.forEach(([name,col,lx]) => {
  lg.append("line").attr("x1",lx).attr("x2",lx+50).attr("y1",2356).attr("y2",2356)
    .attr("stroke",col).attr("stroke-width",2);
  lg.append("text").attr("x",lx+53).attr("y",2369).attr("font-family",FONT)
    .attr("font-size",38).attr("fill","#000").text(name);
});
</script>
</body></html>
